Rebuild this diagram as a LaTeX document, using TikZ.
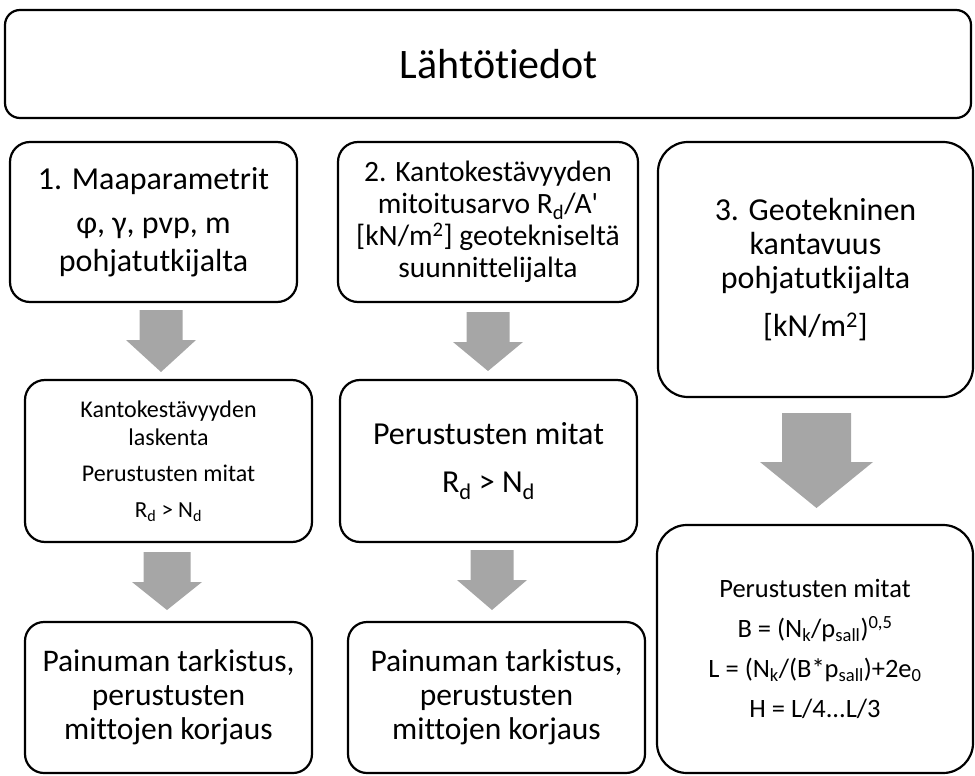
\documentclass[tikz,border=0pt]{standalone}
\usepackage{fontspec}
\setmainfont{Carlito}[Ligatures={TeX,NoCommon}]
\definecolor{arrowgray}{RGB}{166,166,166}
\newcommand{\sbs}[1]{\textsubscript{#1}}
\newcommand{\fsz}[2]{\fontsize{#1bp}{#2bp}\selectfont}
\newcommand{\blkarrow}[7]{% name, x, top, base, tip, shaftw, headw
  \coordinate (#1) at (#2,#3);
  \fill[arrowgray] ({#2-#6/2},#3) -- ({#2+#6/2},#3) -- ({#2+#6/2},#4) -- ({#2+#7/2},#4)
    -- (#2,#5) -- ({#2-#7/2},#4) -- ({#2-#6/2},#4) -- cycle;}
\tikzset{
  box/.style={draw=black, line width=2.2bp, rounded corners=#1, fill=white,
    align=center, inner sep=0pt, text=black},
  box/.default=20bp
}
\begin{document}
\begin{tikzpicture}[x=1bp,y=-1bp]
\useasboundingbox (0,0) rectangle (975,776);

\node[box=15bp, minimum width=966bp, minimum height=108bp, font=\fsz{42}{48}] (top) at (488,64)
  {\hspace*{22bp}Lähtötiedot};

\node[box=20bp, minimum width=287bp, minimum height=160bp, font=\fsz{32}{38}] (b1) at (153.5,222)
  {1. Maaparametrit\\[6bp] φ, γ, pvp, m\\ pohjatutkijalta};

\node[box=20bp, minimum width=300bp, minimum height=160bp, font=\fsz{29.5}{32}] (b2) at (488,222)
  {2. Kantokestävyyden\\ mitoitusarvo R\sbs{d}/A\textquotesingle\\ {[}kN/m\textsuperscript{2}{]} geotekniseltä\\ suunnittelijalta};

\node[box=30bp, minimum width=315bp, minimum height=255bp, font=\fsz{32}{34}] (b3) at (815.5,269.5)
  {3. Geotekninen\\ kantavuus\\ pohjatutkijalta\\[14bp] {[}kN/m\textsuperscript{2}{]}};

\node[box=20bp, minimum width=287bp, minimum height=162bp, font=\fsz{24}{28}] (b4) at (168.5,461)
  {Kantokestävyyden\\ laskenta\\[8bp] Perustusten mitat\\[8bp] \fsz{23}{28}R\sbs{d} > N\sbs{d}};

\node[box=20bp, minimum width=297bp, minimum height=162bp, font=\fsz{32}{38}] (b5) at (488.5,461)
  {Perustusten mitat\\[10bp] R\sbs{d} > N\sbs{d}};

\node[box=30bp, minimum width=316bp, minimum height=248bp, font=\fsz{26.5}{40}] (b6) at (815,649)
  {Perustusten mitat\\ B = (N\sbs{k}/p\sbs{sall})\textsuperscript{0,5}\\ L = (N\sbs{k}/(B*p\sbs{sall})+2e\sbs{0}\\ H = L/4...L/3};

\node[box=19bp, minimum width=287bp, minimum height=151bp, font=\fsz{31.5}{34}] (b7) at (168.5,697.5)
  {Painuman tarkistus,\\ perustusten\\ mittojen korjaus};

\node[box=19bp, minimum width=297bp, minimum height=151bp, font=\fsz{31.5}{34}] (b8) at (496.5,697.5)
  {Painuman tarkistus,\\ perustusten\\ mittojen korjaus};

\blkarrow{a1}{161}{310}{340}{372}{43}{70}
\blkarrow{a2}{488}{312}{342}{371}{43}{70}
\blkarrow{a3}{816.5}{413}{462}{508}{69}{113}
\blkarrow{a4}{167}{552}{582}{610}{47}{70}
\blkarrow{a5}{492}{550}{580}{610}{43}{70}
\end{tikzpicture}
\end{document}
